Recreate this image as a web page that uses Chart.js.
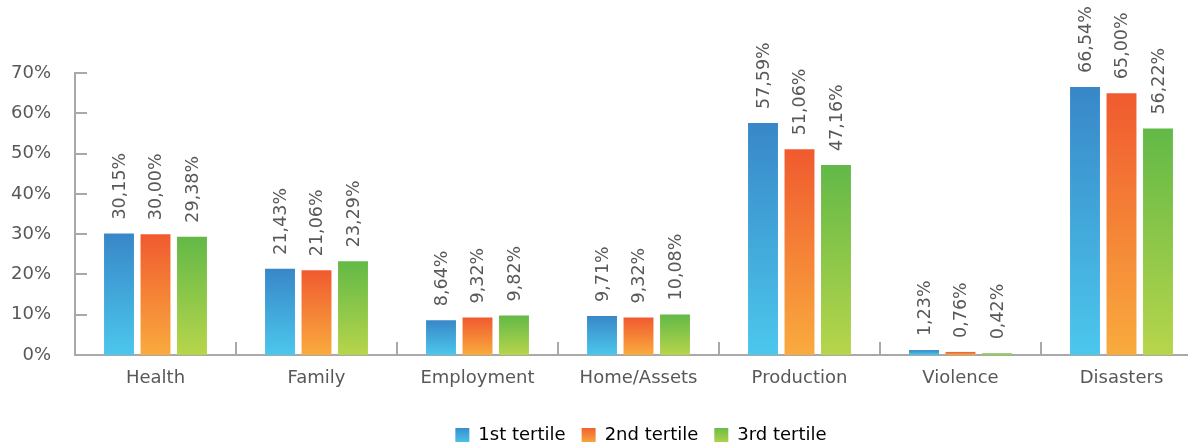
<!DOCTYPE html>
<html>
<head>
<meta charset="utf-8">
<script src="https://cdn.jsdelivr.net/npm/chart.js@4.4.1/dist/chart.umd.min.js"></script>
<style>
  html, body { margin: 0; padding: 0; background: #fff; overflow: hidden; }
  #wrap { position: relative; width: 1202px; height: 444px; }
</style>
</head>
<body>
<div id="wrap"><canvas id="chart"></canvas></div>
<script>
// data ==========================================================
const categories = ["Health", "Family", "Employment", "Home/Assets", "Production", "Violence", "Disasters"];
const seriesNames = ["1st tertile", "2nd tertile", "3rd tertile"];
const tertile1 = [30.15, 21.43, 8.64, 9.71, 57.59, 1.23, 66.54];
const tertile2 = [30.0, 21.06, 9.32, 9.32, 51.06, 0.76, 65.0];
const tertile3 = [29.38, 23.29, 9.82, 10.08, 47.16, 0.42, 56.22];
const yTicks = [0, 10, 20, 30, 40, 50, 60, 70];

// gradient colours: [top, bottom]
const colors = [
  ["#3887c8", "#4cc7ec"],
  ["#f05a2f", "#f9ab3e"],
  ["#62b947", "#b7d54b"],
];

const textColor = "#585858";
const axisColor = "#a9a9a9";
const fontFamily = "'DejaVu Sans', sans-serif";

const makeGradient = (ctx, idx, top, bottom) => {
  if (!isFinite(top) || !isFinite(bottom)) return colors[idx][0];
  if (bottom - top < 1) top = bottom - 1;
  const g = ctx.createLinearGradient(0, top, 0, bottom);
  g.addColorStop(0, colors[idx][0]);
  g.addColorStop(1, colors[idx][1]);
  return g;
};

// one gradient per bar, from its top down to 0
const barColor = (idx) => (context) => {
  const chart = context.chart;
  const y = chart.scales.y;
  if (!y || !context.parsed) return colors[idx][0];
  return makeGradient(chart.ctx, idx, y.getPixelForValue(context.parsed.y), y.getPixelForValue(0));
};

const fmt = (v) => v.toFixed(2).replace(".", ",") + "%";

// rotated value labels above bars
const valueLabels = {
  id: "valueLabels",
  afterDatasetsDraw(chart) {
    const c = chart.ctx;
    c.save();
    c.fillStyle = textColor;
    c.font = "17.5px 'DejaVu Sans', sans-serif";
    c.textAlign = "left";
    c.textBaseline = "middle";
    chart.data.datasets.forEach((ds, di) => {
      chart.getDatasetMeta(di).data.forEach((bar, i) => {
        c.save();
        c.translate(bar.x, bar.y - 14);
        c.rotate(-Math.PI / 2);
        c.fillText(fmt(ds.data[i]), 0, 1);
        c.restore();
      });
    });
    c.restore();
  },
};

// small tick marks pointing into the plot
const axisTicks = {
  id: "axisTicks",
  afterDraw(chart) {
    const { ctx, chartArea, scales: { x, y } } = chart;
    ctx.save();
    ctx.strokeStyle = axisColor;
    ctx.lineWidth = 2;
    ctx.beginPath();
    yTicks.forEach((v) => {
      if (v === 0) return;
      const py = Math.round(y.getPixelForValue(v));
      ctx.moveTo(chartArea.left, py);
      ctx.lineTo(chartArea.left + 12, py);
    });
    for (let i = 1; i < categories.length; i++) {
      const px = Math.round((x.getPixelForValue(i - 1) + x.getPixelForValue(i)) / 2);
      ctx.moveTo(px, chartArea.bottom);
      ctx.lineTo(px, chartArea.bottom - 13);
    }
    ctx.stroke();
    ctx.restore();
  },
};

// move the legend a little right / down
const legendShift = {
  id: "legendShift",
  afterLayout(chart) {
    chart.legend.left += 40;
    chart.legend.right += 40;
    chart.legend.top += 15;
    chart.legend.bottom += 15;
  },
};

const chart = new Chart(document.getElementById("chart"), {
  type: "bar",
  data: {
    labels: categories,
    datasets: [tertile1, tertile2, tertile3].map((d, i) => ({
      label: seriesNames[i],
      data: d,
      backgroundColor: barColor(i),
      borderWidth: 0,
      categoryPercentage: 0.68,
      barPercentage: 0.82,
    })),
  },
  options: {
    responsive: true,
    maintainAspectRatio: false,
    animation: false,
    layout: { padding: { top: 73, right: 0, bottom: 5, left: 0 } },
    plugins: {
      tooltip: { enabled: false },
      legend: {
        position: "bottom",
        labels: {
          boxWidth: 14,
          boxHeight: 14,
          padding: 16,
          color: textColor,
          font: { family: fontFamily, size: 18 },
          generateLabels: (ch) =>
            ch.data.datasets.map((ds, i) => {
              const top = ch.legend ? ch.legend.top + 16 : NaN;
              const fill = makeGradient(ch.ctx, i, top, top + 18);
              return {
                text: ds.label,
                fillStyle: fill,
                strokeStyle: "rgba(0,0,0,0)",
                lineWidth: 0,
                datasetIndex: i,
                hidden: false,
              };
            }),
        },
      },
    },
    scales: {
      x: {
        grid: { display: false, drawTicks: false },
        border: { display: true, color: axisColor, width: 2 },
        ticks: { color: textColor, font: { family: fontFamily, size: 18 }, padding: 13 },
        afterFit: (s) => { s.height = 40; },
      },
      y: {
        min: 0,
        max: 70,
        grid: { display: false, drawTicks: false },
        border: { display: true, color: axisColor, width: 2 },
        afterBuildTicks: (axis) => { axis.ticks = yTicks.map((v) => ({ value: v })); },
        ticks: {
          color: textColor,
          font: { family: fontFamily, size: 18 },
          padding: 24,
          callback: (v) => v + "%",
        },
        afterFit: (s) => { s.width = 75; },
      },
    },
  },
  plugins: [valueLabels, axisTicks, legendShift],
});
</script>
</body>
</html>
